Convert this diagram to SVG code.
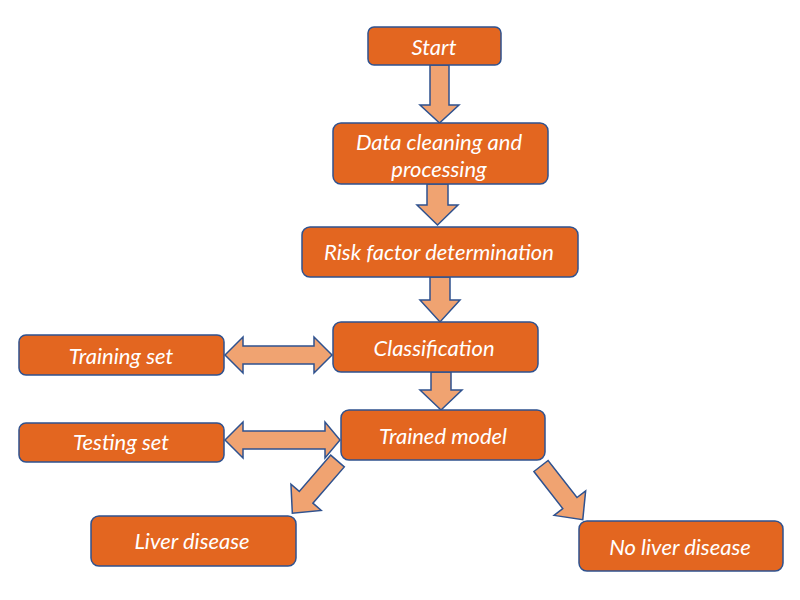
<svg xmlns="http://www.w3.org/2000/svg" width="800" height="600" viewBox="0 0 800 600">
<style>
.box{fill:#E36620;stroke:#2F528F;stroke-width:1.5}
.arr{fill:#F0A371;stroke:#2F528F;stroke-width:1.5;stroke-linejoin:miter}
.t{fill:#fff;font-family:Lato,"Liberation Sans",sans-serif;font-style:italic;font-size:22px;text-anchor:middle;dominant-baseline:central}
</style>
<rect width="800" height="600" fill="#fff"/>
<g id="connectors">
<polygon class="arr" points="430,65 449,65 449,105 459,105 439.5,123 420,105 430,105"/>
<polygon class="arr" points="427,184 448,184 448,205 458,205 437.5,225 417,205 427,205"/>
<polygon class="arr" points="430,277 450,277 450,300 460,300 440,322 420,300 430,300"/>
<polygon class="arr" points="431,372 451,372 451,390 462,390 441,410 420,390 431,390"/>
<polygon class="arr" points="225,355 243,337 243,346 314,346 314,337 332,355 314,373 314,364 243,364 243,373"/>
<polygon class="arr" points="225,440 243,422 243,431 325,431 325,422 340,440 325,458 325,449 243,449 243,458"/>
<polygon class="arr" transform="translate(337.5,461) rotate(40.9)" points="-9,0 9,0 9,48 20,48 0,69 -20,48 -9,48"/>
<polygon class="arr" transform="translate(541,466) rotate(-37.9)" points="-9,0 9,0 9,47 20,47 0,68 -20,47 -9,47"/>
</g>
<g id="start"><rect class="box" x="368" y="27" width="133" height="38" rx="6"/><text class="t" x="434" y="46">Start</text></g>
<g id="cleaning"><rect class="box" x="333" y="123" width="215" height="61" rx="8"/><text class="t" x="439" y="141">Data cleaning and</text><text class="t" x="439" y="168">processing</text></g>
<g id="risk"><rect class="box" x="302" y="227" width="276" height="50" rx="8"/><text class="t" x="439" y="251">Risk factor determination</text></g>
<g id="classification"><rect class="box" x="333" y="322" width="205" height="50" rx="8"/><text class="t" x="434" y="347">Classification</text></g>
<g id="training"><rect class="box" x="19" y="335" width="205" height="40" rx="7"/><text class="t" x="121" y="355">Training set</text></g>
<g id="testing"><rect class="box" x="19" y="423" width="205" height="39" rx="7"/><text class="t" x="121" y="441">Testing set</text></g>
<g id="trained"><rect class="box" x="341" y="410" width="204" height="50" rx="8"/><text class="t" x="443" y="435">Trained model</text></g>
<g id="liver"><rect class="box" x="91" y="516" width="205" height="50" rx="8"/><text class="t" x="192" y="540">Liver disease</text></g>
<g id="noliver"><rect class="box" x="579" y="521" width="204" height="50" rx="8"/><text class="t" x="680" y="546">No liver disease</text></g>
</svg>
